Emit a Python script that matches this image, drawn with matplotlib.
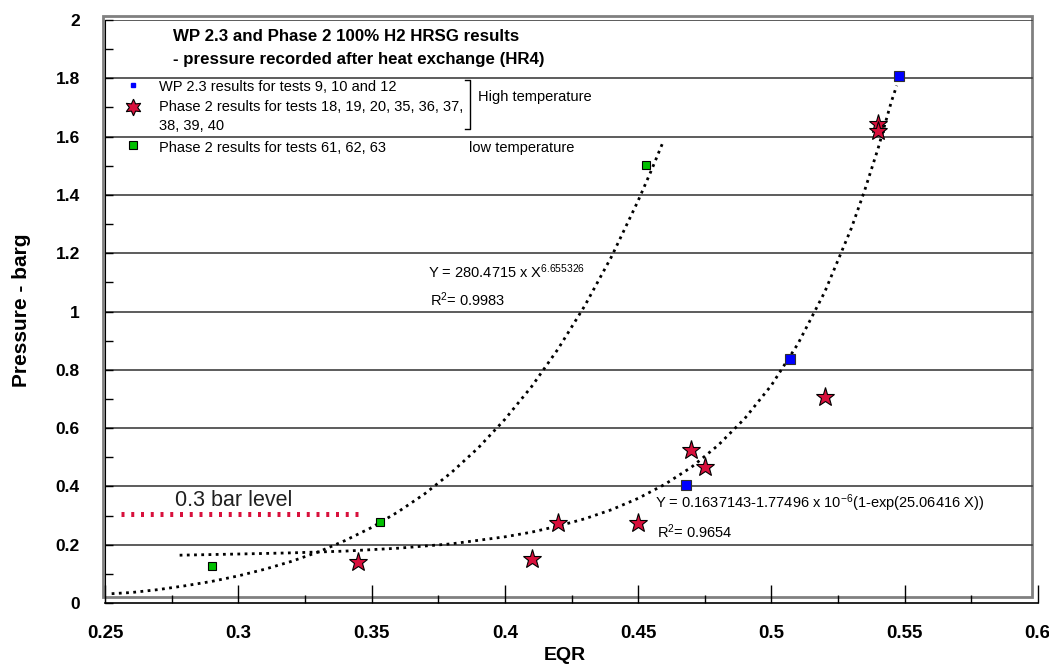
import numpy as np
import matplotlib
matplotlib.use("Agg")
import matplotlib.pyplot as plt
import matplotlib.transforms as mtransforms
from matplotlib.patches import Rectangle

plt.rcParams['font.family'] = ['Liberation Sans', 'DejaVu Sans']
plt.rcParams['mathtext.default'] = 'regular'

# WP 2.3 results (blue squares)
wp_eqr = [0.468, 0.507, 0.548]
wp_p = [0.406, 0.836, 1.808]

# Phase 2 high temperature (red stars)
ph2_eqr = [0.345, 0.410, 0.420, 0.450, 0.470, 0.475, 0.520, 0.540, 0.540]
ph2_p = [0.142, 0.150, 0.275, 0.275, 0.525, 0.468, 0.706, 1.642, 1.620]

# Phase 2 low temperature (green squares)
low_eqr = [0.290, 0.353, 0.453]
low_p = [0.128, 0.279, 1.504]

# trendlines
pow_x = [0.2525, 0.26, 0.27, 0.28, 0.29, 0.30, 0.31, 0.32, 0.33, 0.34, 0.35,
         0.36, 0.37, 0.38, 0.39, 0.40, 0.41, 0.42, 0.43, 0.44, 0.45, 0.455, 0.4595]
pow_y = [0.032, 0.036, 0.046, 0.059, 0.074, 0.093, 0.116, 0.143, 0.175, 0.214, 0.259,
         0.313, 0.375, 0.448, 0.532, 0.630, 0.742, 0.872, 1.020, 1.188, 1.380, 1.485, 1.585]
exp_x = [0.278, 0.30, 0.32, 0.34, 0.36, 0.38, 0.40, 0.41, 0.42, 0.43, 0.44, 0.45,
         0.46, 0.47, 0.48, 0.49, 0.50, 0.51, 0.52, 0.53, 0.535, 0.54, 0.545, 0.547]
exp_y = [0.164, 0.168, 0.172, 0.178, 0.188, 0.203, 0.227, 0.243, 0.264, 0.289, 0.320, 0.359,
         0.407, 0.466, 0.541, 0.633, 0.747, 0.890, 1.067, 1.286, 1.416, 1.559, 1.720, 1.775]

level_x = [0.256, 0.347]
level_y = [0.305, 0.305]

red = '#d8103c'

fig = plt.figure(figsize=(10.49, 6.66), dpi=100)
ax = fig.add_axes([105 / 1049, 63 / 666, 933 / 1049, 583 / 666])
ax.set_xlim(0.25, 0.6)
ax.set_ylim(0, 2)

# plot area frame (grey) and gridlines
ax.add_patch(Rectangle((-0.002, 0.0103), 0.9956, 0.9966, transform=ax.transAxes,
                       fill=False, edgecolor='#808080', lw=2, clip_on=False, zorder=1))
for g in np.arange(0.2, 2.01, 0.2):
    ax.axhline(g, xmin=0, xmax=0.9936, color='#303030', lw=1.1, zorder=1)

for s in ['top', 'right']:
    ax.spines[s].set_visible(False)
ax.spines['left'].set_color('black')
ax.spines['bottom'].set_color('black')
ax.spines['bottom'].set_linewidth(1.2)

ax.set_xticks(np.arange(0.25, 0.601, 0.05))
ax.set_xticks(np.arange(0.25, 0.601, 0.025), minor=True)
ax.set_yticks(np.arange(0, 2.01, 0.2))
ax.set_yticks(np.arange(0, 2.01, 0.1), minor=True)
ax.set_xticklabels(['0.25', '0.3', '0.35', '0.4', '0.45', '0.5', '0.55', '0.6'])
ax.set_yticklabels(['0', '0.2', '0.4', '0.6', '0.8', '1', '1.2', '1.4', '1.6', '1.8', '2'])
ax.tick_params(axis='x', which='major', direction='in', length=13, width=1, pad=16,
               labelsize=13.5)
ax.tick_params(axis='x', which='minor', direction='in', length=6, width=1)
ax.tick_params(axis='y', which='both', direction='in', length=6, width=1, pad=18,
               labelsize=12.5)
for lab in ax.get_xticklabels() + ax.get_yticklabels():
    lab.set_fontweight('bold')
# last x label sits against the right edge, nudge it in a little
last = ax.get_xticklabels()[-1]
last.set_horizontalalignment('right')
last.set_transform(last.get_transform() +
                   mtransforms.ScaledTranslation(9 / 72, 0, fig.dpi_scale_trans))

# trendlines
ax.plot(pow_x, pow_y, color='black', lw=2, dashes=(1, 1.6), zorder=3)
ax.plot(exp_x, exp_y, color='black', lw=2, dashes=(1, 1.6), zorder=3)

# 0.3 bar level
ax.plot(level_x, level_y, color=red, lw=3.6, dashes=(0.6, 1.35),
        solid_capstyle='butt', dash_capstyle='butt', zorder=3)
ax.text(0.2763, 0.333, '0.3 bar level', fontsize=15.5, color='#202020', va='baseline')

# data
ax.plot(wp_eqr, wp_p, 's', ms=7, mfc='#0000ff', mec='#303030', mew=0.8, zorder=5)
ax.plot(ph2_eqr, ph2_p, '*', ms=14, mfc=red, mec='black', mew=0.8, zorder=5)
ax.plot(low_eqr, low_p, 's', ms=5.5, mfc='#00c000', mec='black', mew=0.8, zorder=5)

# title block
ax.text(0.2755, 1.942, 'WP 2.3 and Phase 2 100% H2 HRSG results', fontsize=12.2,
        fontweight='bold', va='center')
ax.text(0.2755, 1.863, '- pressure recorded after heat exchange (HR4)', fontsize=12.2,
        fontweight='bold', va='center')

# legend (drawn by hand)
ax.plot([0.2605], [1.777], 's', ms=3, mfc='#0000ff', mec='#0000ff', zorder=5)
ax.plot([0.2605], [1.702], marker=(6, 1, 0), ms=12, mfc=red, mec='black', mew=0.8,
        zorder=5)
ax.plot([0.2605], [1.571], 's', ms=5.5, mfc='#00c000', mec='black', mew=0.8, zorder=5)
ax.text(0.2703, 1.770, 'WP 2.3 results for tests 9, 10 and 12', fontsize=10.5, va='center')
ax.text(0.2703, 1.702, 'Phase 2 results for tests 18, 19, 20, 35, 36, 37,', fontsize=10.5,
        va='center')
ax.text(0.2703, 1.636, '38, 39, 40', fontsize=10.5, va='center')
ax.text(0.2703, 1.561, 'Phase 2 results for tests 61, 62, 63', fontsize=10.5, va='center')
ax.plot([0.385, 0.3869, 0.3869, 0.385], [1.795, 1.795, 1.625, 1.625], color='black', lw=1)
ax.text(0.3899, 1.736, 'High temperature', fontsize=10.5, va='center')
ax.text(0.3865, 1.561, 'low temperature', fontsize=10.5, va='center')

# equations
ax.text(0.3712, 1.135, 'Y = 280.4715 x X$^{6.655326}$', fontsize=10.5, va='center')
ax.text(0.3719, 1.039, 'R$^{2}$= 0.9983', fontsize=10.5, va='center')
ax.text(0.4563, 0.343, 'Y = 0.1637143-1.77496 x 10$^{-6}$(1-exp(25.06416 X))',
        fontsize=10.5, va='center')
ax.text(0.457, 0.244, 'R$^{2}$= 0.9654', fontsize=10.5, va='center')

fig.text(565 / 1049, 1 - 655 / 666, 'EQR', fontsize=14, fontweight='bold',
         ha='center', va='center')
fig.text(22 / 1049, 1 - 310 / 666, 'Pressure - barg', fontsize=15, fontweight='bold',
         rotation=90, ha='center', va='center')

fig.savefig('out.png', dpi=100)
